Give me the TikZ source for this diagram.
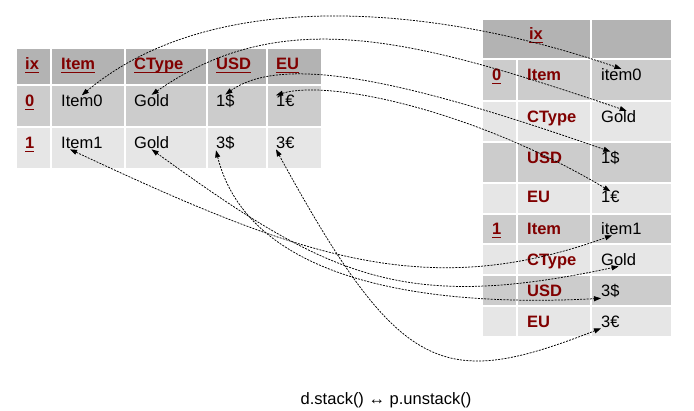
\documentclass[tikz,border=0pt]{standalone}
\usepackage{fontspec}
\setmainfont{Liberation Sans}
\usetikzlibrary{arrows.meta}
\definecolor{darkred}{HTML}{800000}
\definecolor{hdrgray}{HTML}{B3B3B3}
\definecolor{rowdark}{HTML}{CCCCCC}
\definecolor{rowlight}{HTML}{E6E6E6}
\newcommand\ulabel[1]{\setbox0\hbox{#1}\rlap{\rule[-3.2pt]{\wd0}{1.3pt}}\box0}
\newcommand\cellfont{\fontsize{16.5}{20}\selectfont}

\begin{document}
\begin{tikzpicture}[x=1pt,y=-1pt,>={Triangle[length=7pt,width=5pt]}]
  \tikzset{cell/.style={draw=white,line width=1.6pt},
    lbl/.style={anchor=base west,inner sep=0pt,text=darkred,font=\cellfont\bfseries},
    val/.style={anchor=base west,inner sep=0pt,font=\cellfont},
    link/.style={<->,line width=.75pt,dash pattern=on 2pt off 1.2pt}}
  \useasboundingbox (0,0) rectangle (694,411);
  % left table
  \foreach \x/\w in {16/35,51/74,125/82,207/60,267/55} {
    \path[cell,fill=hdrgray] (\x,48) rectangle ++(\w,37);
    \path[cell,fill=rowdark] (\x,85) rectangle ++(\w,42);
    \path[cell,fill=rowlight] (\x,127) rectangle ++(\w,42);
  }
  % right table
  \path[cell,fill=hdrgray] (482,19) rectangle (591,59);
  \path[cell,fill=hdrgray] (591,19) rectangle (672,59);
  \foreach \y/\h/\c in {59/42/rowdark,101/41/rowlight,142/41/rowdark,183/31/rowlight,
      214/30/rowdark,244/31/rowlight,275/31/rowdark,306/31/rowlight}
    \foreach \x/\w in {482/35,517/74,591/81}
      \path[cell,fill=\c] (\x,\y) rectangle ++(\w,\h);

  \node[lbl] (hix) at (25,70) {\ulabel{ix}};
  \node[lbl] (hitem) at (61,70) {\ulabel{Item}};
  \node[lbl] (hctype) at (134,70) {\ulabel{CType}};
  \node[lbl] (husd) at (216,70) {\ulabel{USD}};
  \node[lbl] (heu) at (276,70) {\ulabel{EU}};
  \node[lbl] (a0) at (25,107) {\ulabel{0}};
  \node[val] (a0i) at (61,107) {Item0};
  \node[val] (a0c) at (134,107) {Gold};
  \node[val] (a0u) at (216,107) {1\$};
  \node[val] (a0e) at (276,107) {1€};
  \node[lbl] (a1) at (25,149) {\ulabel{1}};
  \node[val] (a1i) at (61,149) {Item1};
  \node[val] (a1c) at (134,149) {Gold};
  \node[val] (a1u) at (216,149) {3\$};
  \node[val] (a1e) at (276,149) {3€};

  \node[lbl,anchor=base] (rix) at (536,40) {\ulabel{ix}};
  \node[lbl] (b0) at (492,81) {\ulabel{0}};
  \node[lbl] (k0i) at (527,81) {Item};
  \node[val] (v0i) at (601,81) {item0};
  \node[lbl] (k0c) at (527,123) {CType};
  \node[val] (v0c) at (601,123) {Gold};
  \node[lbl] (k0u) at (527,164) {USD};
  \node[val] (v0u) at (601,164) {1\$};
  \node[lbl] (k0e) at (527,203) {EU};
  \node[val] (v0e) at (601,203) {1€};
  \node[lbl] (b1) at (492,235) {\ulabel{1}};
  \node[lbl] (k1i) at (527,235) {Item};
  \node[val] (v1i) at (601,235) {item1};
  \node[lbl] (k1c) at (527,266) {CType};
  \node[val] (v1c) at (601,266) {Gold};
  \node[lbl] (k1u) at (527,297) {USD};
  \node[val] (v1u) at (601,297) {3\$};
  \node[lbl] (k1e) at (527,328) {EU};
  \node[val] (v1e) at (601,328) {3€};

  \node[val,anchor=base] (cap) at (386,405) {d.stack() ↔ p.unstack()};

  \draw[link] (a0i.north) .. controls +(130,-109) and +(-189,-65) .. (v0i.north);
  \draw[link] (a0c.north) .. controls +(133,-93) and +(-207,-70) .. ([xshift=8pt]v0c.north);
  \draw[link] (a0u.north) .. controls +(60,-43) and +(-192,-67) .. (v0u.north);
  \draw[link] (a0e.north west) .. controls +(52,-16) and +(-138,-82) .. (v0e.north);
  \draw[link] ([xshift=9pt]a1i.south west) .. controls +(227,106) and +(-188,68) .. ([xshift=11pt]v1i.south west);
  \draw[link] (a1c.south) .. controls +(178,129) and +(-215,46) .. (v1c.south);
  \draw[link] (a1u.south west) .. controls +(35,140) and +(-150,8) .. (v1u.south west);
  \draw[link] (a1e.south west) .. controls +(124,227) and +(-159,62) .. (v1e.south west);
\end{tikzpicture}
\end{document}
